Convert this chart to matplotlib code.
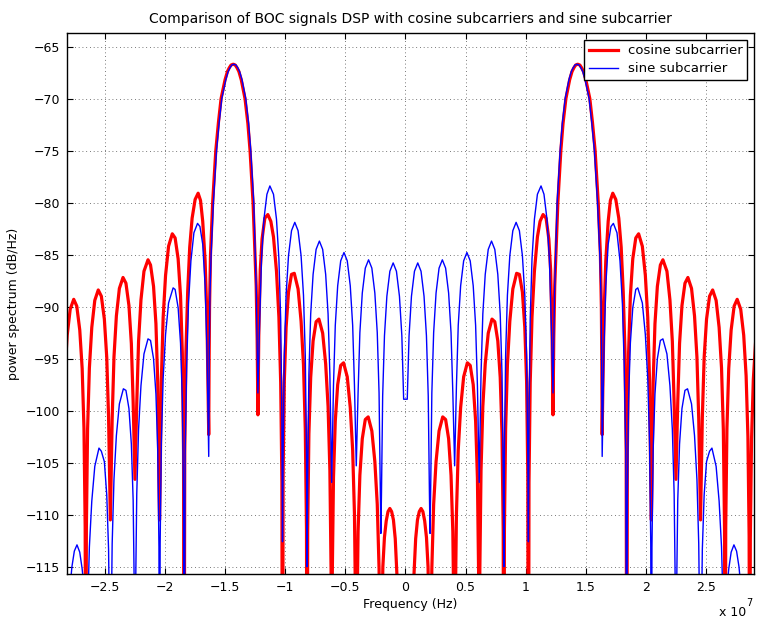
import numpy as np
import matplotlib.pyplot as plt
from matplotlib.ticker import FuncFormatter, MultipleLocator

plt.rcParams['font.family'] = ['DejaVu Sans']

# Values, positive half of the spectrum only (it is symmetric).
# frequencies in MHz, levels in dB/Hz
sine_f = [0.15, 0.3, 0.5, 0.75, 1.023, 1.296, 1.546, 1.746, 1.896, 1.996, 2.046,
          2.096, 2.196, 2.346, 2.546, 2.796, 3.069, 3.342, 3.592, 3.792, 3.942, 4.092,
          4.242, 4.392, 4.592, 4.842, 5.115, 5.388, 5.638, 5.838, 5.988, 6.138,
          6.288, 6.438, 6.638, 6.888, 7.161, 7.434, 7.684, 7.884, 8.034, 8.134, 8.184,
          8.234, 8.334, 8.484, 8.684, 8.934, 9.207, 9.48, 9.73, 9.93, 10.08, 10.18, 10.23,
          10.28, 10.38, 10.53, 10.73, 10.98, 11.28, 11.526, 11.776, 11.976, 12.126, 12.276,
          12.33, 12.4, 12.5, 12.62, 12.87, 13.05, 13.29, 13.6, 13.8, 13.95, 14.1, 14.28,
          14.45, 14.6, 14.75, 14.95, 15.28, 15.5, 15.72, 15.98, 16.17, 16.27, 16.32, 16.368,
          16.518, 16.668, 16.868, 17.1, 17.3, 17.6, 17.85, 18.05, 18.2, 18.33, 18.414,
          18.464, 18.564, 18.714, 18.914, 19.164, 19.33, 19.71, 19.96, 20.16, 20.31, 20.41, 20.46,
          20.51, 20.61, 20.76, 20.96, 21.21, 21.42, 21.756, 22.006, 22.206, 22.356, 22.456, 22.506,
          22.556, 22.656, 22.806, 23.006, 23.256, 23.47, 23.802, 24.052, 24.252, 24.402, 24.502, 24.552,
          24.602, 24.702, 24.852, 25.052, 25.302, 25.5, 25.848, 26.098, 26.298, 26.448, 26.548, 26.598,
          26.75, 26.9, 27.1, 27.33, 27.55, 27.75, 27.95, 28.2, 28.45, 28.644,
          29.5]
sine_db = [-98.9, -92.8, -89.0, -86.6, -85.8, -86.6, -89.0, -92.8, -98.6, -108.1, -111.8,
           -107.8, -98.3, -92.5, -88.7, -86.3, -85.5, -86.3, -88.7, -92.5, -98.3, -105.3,
           -97.6, -91.8, -88.0, -85.6, -84.8, -85.6, -88.0, -91.8, -97.6, -106.9,
           -96.5, -90.7, -86.9, -84.5, -83.7, -84.5, -86.9, -90.7, -96.5, -106.0, -115.0,
           -104.2, -94.7, -88.9, -85.1, -82.7, -81.9, -82.7, -85.1, -88.9, -94.7, -104.2, -112.6,
           -100.7, -91.2, -85.4, -81.6, -79.2, -78.4, -79.2, -81.6, -85.4, -91.2, -98.3,
           -94, -89, -85, -80, -75, -72.4, -70, -68.2, -67.4, -67.05, -66.78, -66.7,
           -66.78, -67.05, -67.4, -68.2, -70, -72.3, -75, -80, -85, -89, -94, -104.4,
           -94.0, -88.0, -84.0, -82.3, -82.0, -82.9, -85.6, -89.7, -95.6, -104.0, -135,
           -108.2, -98.9, -93.5, -90.1, -88.35, -88.2, -89.65, -92.7, -96.9, -103.1, -112.8, -135,
           -113.1, -103.8, -98.4, -95.0, -93.25, -93.1, -94.55, -97.6, -101.8, -108.0, -117.7, -135,
           -117.9, -108.6, -103.2, -99.8, -98.05, -97.9, -99.35, -102.4, -106.6, -112.8, -122.5, -135,
           -122.6, -113.3, -108.1, -104.9, -103.9, -103.6, -105.35, -108.7, -113.1, -119.5, -129.2, -140,
           -117, -115.2, -113.6, -112.9, -113.5, -115.0, -117.5, -123, -133, -160,
           -140]

cosine_f = [0.1, 0.3, 0.5, 0.7, 0.85, 1.0, 1.15, 1.3, 1.45, 1.6, 1.75, 1.88, 1.97, 2.046,
            2.096, 2.196, 2.346, 2.546, 2.796, 3.1, 3.342, 3.592, 3.792, 3.942, 4.042, 4.092,
            4.142, 4.242, 4.392, 4.592, 4.842, 5.15, 5.388, 5.638, 5.838, 5.988, 6.088, 6.138,
            6.188, 6.288, 6.438, 6.638, 6.888, 7.2, 7.434, 7.684, 7.884, 8.034, 8.134, 8.184,
            8.234, 8.334, 8.484, 8.684, 8.934, 9.25, 9.48, 9.73, 9.93, 10.08, 10.18, 10.23,
            10.28, 10.38, 10.53, 10.73, 10.98, 11.2, 11.45, 11.7, 11.93, 12.08, 12.2, 12.276,
            12.34, 12.42, 12.53, 12.68, 12.93, 13.11, 13.35, 13.66, 13.86, 14.01, 14.16, 14.33,
            14.51, 14.66, 14.81, 15.01, 15.34, 15.56, 15.78, 16.04, 16.22, 16.3, 16.34, 16.368,
            16.42, 16.518, 16.668, 16.868, 17.05, 17.25, 17.5, 17.75, 17.95, 18.12, 18.264, 18.364, 18.414,
            18.464, 18.564, 18.714, 18.914, 19.164, 19.4, 19.71, 19.96, 20.16, 20.31, 20.41, 20.46,
            20.51, 20.61, 20.76, 20.96, 21.21, 21.42, 21.756, 22.006, 22.206, 22.356, 22.506,
            22.656, 22.806, 23.006, 23.256, 23.5, 23.802, 24.052, 24.252, 24.402, 24.552,
            24.702, 24.852, 25.052, 25.302, 25.56, 25.848, 26.098, 26.298, 26.448, 26.548, 26.598,
            26.648, 26.748, 26.898, 27.098, 27.348, 27.6, 27.894, 28.144, 28.344, 28.494, 28.594, 28.644,
            28.694, 28.794, 28.944, 29.144, 29.394, 29.667]
cosine_db = [-180, -140, -125, -116, -112.3, -110.5, -109.7, -109.4, -109.7, -110.6, -112.2, -115, -121, -140,
             -124.8, -115.15, -109.0, -104.9, -101.95, -100.6, -100.85, -102.7, -106.2, -111.65, -121.0, -140,
             -119.6, -109.95, -103.8, -99.7, -96.75, -95.4, -95.65, -97.5, -101.0, -106.45, -115.8, -140,
             -115.4, -105.75, -99.6, -95.5, -92.55, -91.2, -91.45, -93.3, -96.8, -102.25, -111.6, -140,
             -111.4, -101.8, -95.6, -91.4, -88.3, -86.8, -86.9, -88.6, -92.0, -97.2, -106.3, -140,
             -106.9, -97.3, -91.0, -86.6, -83.3, -81.8, -81.15, -81.5, -83.5, -86.5, -92.5, -100.4,
             -93, -88, -84.5, -80, -75, -72.4, -70, -68.2, -67.4, -67.05, -66.78, -66.7,
             -66.78, -67.05, -67.4, -68.2, -70, -72.3, -75, -80, -85, -90, -96, -102.3,
             -98.0, -91.0, -85.6, -81.8, -79.8, -79.1, -79.7, -81.5, -84.3, -88.6, -94.3, -104.0, -135,
             -103.9, -94.5, -88.95, -85.4, -83.4, -83.0, -84.2, -87.0, -91.05, -97.1, -106.7, -110.5,
             -106.7, -97.3, -91.65, -88.05, -86.0, -85.5, -86.6, -89.35, -93.35, -99.3, -106.6,
             -99.2, -93.55, -89.9, -87.75, -87.2, -88.25, -90.9, -94.85, -100.8, -110.5,
             -100.6, -94.9, -91.2, -89.0, -88.4, -89.4, -92.0, -95.9, -101.8, -111.35, -135,
             -111.15, -101.7, -95.95, -92.25, -89.95, -89.3, -90.25, -92.75, -96.65, -102.5, -112.05, -135,
             -112.3, -102.8, -97.0, -93.2, -90.8, -90.0]


# mirror the half spectrum to get the full one (in Hz)
def full_spectrum(f_mhz, db):
    f = np.array(f_mhz) * 1e6
    d = np.array(db)
    return np.concatenate([-f[::-1], f]), np.concatenate([d[::-1], d])


fc, dc = full_spectrum(cosine_f, cosine_db)
fs, ds = full_spectrum(sine_f, sine_db)

fig = plt.figure(figsize=(7.57, 6.21), dpi=100)
ax = fig.add_axes([67/757, 47/621, 687/757, 541/621])

ax.plot(fc, dc, color='red', linewidth=2.3, label='cosine subcarrier')
ax.plot(fs, ds, color='blue', linewidth=1.0, label='sine subcarrier')

ax.set_xlim(-2.816e7, 2.9e7)
ax.set_ylim(-115.7, -63.7)
ax.xaxis.set_major_locator(MultipleLocator(0.5e7))
ax.yaxis.set_major_locator(MultipleLocator(5))
ax.xaxis.set_major_formatter(FuncFormatter(lambda v, p: ('%g' % (v / 1e7)).replace('-', '\u2212')))
ax.yaxis.set_major_formatter(FuncFormatter(lambda v, p: ('%g' % v).replace('-', '\u2212')))
ax.tick_params(direction='in', top=True, right=True, length=4, width=0.8, labelsize=9, pad=5)
ax.grid(True, linestyle=(0, (1, 3.5)), color='k', linewidth=0.6, alpha=0.7)
for s in ax.spines.values():
    s.set_linewidth(1.0)

ax.set_title('Comparison of BOC signals DSP with cosine subcarriers and sine subcarrier',
             fontsize=10, pad=7)
ax.set_xlabel('Frequency (Hz)', fontsize=9, labelpad=3)
ax.set_ylabel('power spectrum (dB/Hz)', fontsize=9, labelpad=4)
fig.text(719/757, 1 - 612/621, 'x 10', fontsize=9, va='center', ha='left')
fig.text(746/757, 1 - 603/621, '7', fontsize=7, va='center', ha='left')

leg = ax.legend(loc='upper right', fontsize=9.5, fancybox=False, framealpha=1,
                edgecolor='black', borderaxespad=0.5, handlelength=2.2,
                borderpad=0.35, labelspacing=0.4, handletextpad=0.75)
leg.get_frame().set_linewidth(1.0)

fig.savefig('out.png', dpi=100)
